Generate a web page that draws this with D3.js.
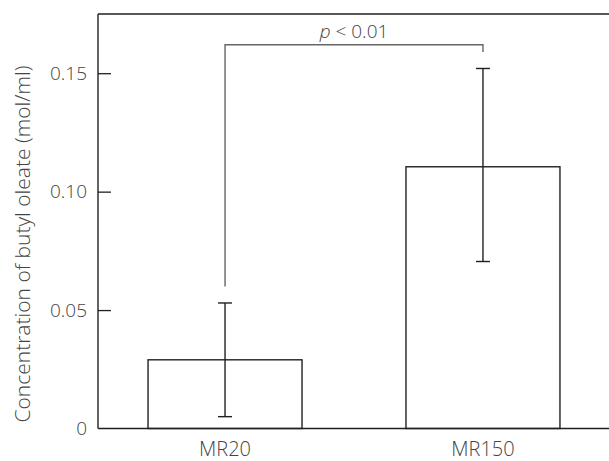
<!DOCTYPE html>
<html>
<head>
<meta charset="utf-8">
<script src="https://d3js.org/d3.v7.min.js"></script>
<style>
  body { margin: 0; background: #fff; }
  text { font-family: "Open Sans", "Noto Sans", sans-serif; font-weight: 300; fill: #444; }
</style>
</head>
<body>
<div id="chart"></div>
<script>
// values
var groups = ["MR20", "MR150"];
var means = [0.029, 0.1105];
var errLow = [0.005, 0.0705];
var errHigh = [0.053, 0.152];
var yTicks = [0, 0.05, 0.10, 0.15];
var yTickLabels = ["0", "0.05", "0.10", "0.15"];
// significance bracket: [left foot, top, right foot]
var bracket = [0.060, 0.162, 0.159];
var pLabel = "< 0.01";

var width = 609, height = 461;
var plotLeft = 98, plotRight = 609, plotTop = 14, plotBottom = 428.5;

var svg = d3.select("#chart").append("svg")
  .attr("width", width)
  .attr("height", height);

var x = d3.scaleBand()
  .domain(groups)
  .range([plotLeft, plotRight + 1])
  .paddingInner(0.403)
  .paddingOuter(0.194);

var y = d3.scaleLinear()
  .domain([0, 0.175])
  .range([plotBottom, plotTop]);

var ink = "#231f20";

// bars
svg.append("g")
  .selectAll("rect")
  .data(groups)
  .enter()
  .append("rect")
    .attr("x", function(d){ return x(d); })
    .attr("y", function(d, i){ return y(means[i]); })
    .attr("width", x.bandwidth())
    .attr("height", function(d, i){ return y(0) - y(means[i]); })
    .attr("fill", "#fff")
    .attr("stroke", ink)
    .attr("stroke-width", 1.4);

// error bars
var err = svg.append("g").attr("stroke", ink).attr("stroke-width", 1.4);
groups.forEach(function(g, i) {
  var cx = x(g) + x.bandwidth() / 2;
  err.append("line")
    .attr("x1", cx).attr("x2", cx)
    .attr("y1", y(errLow[i])).attr("y2", y(errHigh[i]));
  [errLow[i], errHigh[i]].forEach(function(v) {
    err.append("line")
      .attr("x1", cx - 7).attr("x2", cx + 7)
      .attr("y1", y(v)).attr("y2", y(v));
  });
});

// y axis, ticks pointing inward
var yAxis = d3.axisLeft(y)
  .tickValues(yTicks)
  .tickFormat(function(d, i){ return yTickLabels[i]; })
  .tickSizeInner(-13)
  .tickSizeOuter(0)
  .tickPadding(11);

var ya = svg.append("g")
  .attr("transform", "translate(" + plotLeft + ",0)")
  .call(yAxis);
ya.select(".domain").remove();
ya.selectAll(".tick line")
  .attr("stroke", ink)
  .attr("stroke-width", 1.3)
  .filter(function(d){ return d === 0; }).remove();
ya.selectAll(".tick text")
  .style("font-size", "19px")
  .attr("fill", "#444");

// frame: left, top and bottom lines
var frame = svg.append("g").attr("stroke", ink).attr("stroke-width", 1.4).attr("fill", "none");
frame.append("line").attr("x1", plotLeft).attr("x2", plotLeft).attr("y1", plotTop).attr("y2", y(0));
frame.append("line").attr("x1", plotLeft).attr("x2", plotRight).attr("y1", plotTop).attr("y2", plotTop);
frame.append("line").attr("x1", plotLeft).attr("x2", plotRight).attr("y1", y(0)).attr("y2", y(0));

// x labels
svg.append("g")
  .selectAll("text")
  .data(groups)
  .enter()
  .append("text")
    .attr("x", function(d){ return x(d) + x.bandwidth() / 2; })
    .attr("y", 456)
    .attr("text-anchor", "middle")
    .style("font-size", "20px")
    .text(function(d){ return d; });

// y label
svg.append("text")
  .attr("transform", "translate(30,244) rotate(-90)")
  .attr("text-anchor", "middle")
  .style("font-size", "21px")
  .text("Concentration of butyl oleate (mol/ml)");

// significance bracket
var x0 = x(groups[0]) + x.bandwidth() / 2;
var x1 = x(groups[1]) + x.bandwidth() / 2;
svg.append("path")
  .attr("d", d3.line()([[x0, y(bracket[0])], [x0, y(bracket[1])], [x1, y(bracket[1])], [x1, y(bracket[2])]]))
  .attr("fill", "none")
  .attr("stroke", "#666")
  .attr("stroke-width", 1.4);

var pt = svg.append("text")
  .attr("x", (x0 + x1) / 2)
  .attr("y", 38)
  .attr("text-anchor", "middle")
  .style("font-size", "19px");
pt.append("tspan").style("font-style", "italic").text("p");
pt.append("tspan").text(" " + pLabel);
</script>
</body>
</html>
